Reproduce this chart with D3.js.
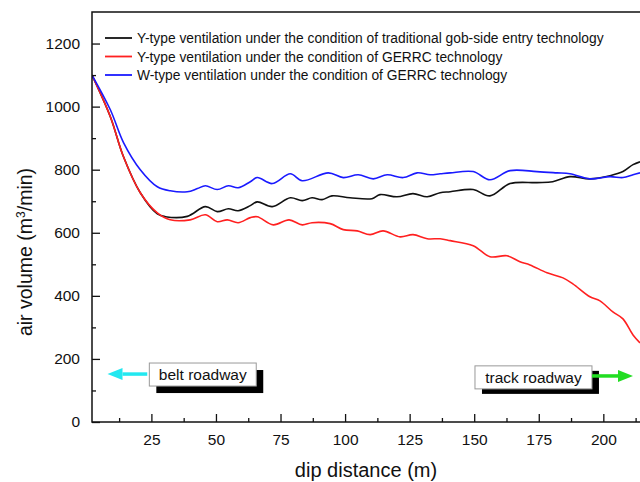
<!DOCTYPE html>
<html>
<head>
<meta charset="utf-8">
<script src="https://cdn.jsdelivr.net/npm/d3@7"></script>
<style>
  body { margin: 0; background: #fff; }
  text { font-family: Arial, "Liberation Sans", sans-serif; fill: #111; }
</style>
</head>
<body>
<div id="chart"></div>
<script>
// dip distance (m) sampled along the roadway
const blueX  = [2, 9.1, 14.2, 20.7, 27.3, 32.3, 38.9, 42.8, 45.9, 50.5, 54.8, 58.6, 63.3, 66.0, 71.8, 78.8, 83.4, 93.5, 99.3, 105.1, 110.9, 116.3, 122.5, 127.9, 132.9, 136.8, 140.7, 149.6, 156.1, 163.9, 174.3, 182.0, 187.1, 194.8, 202.6, 207.6, 211.5, 214.2];
const blueY  = [1100, 990, 886, 800, 746, 733, 730, 740, 749, 737, 749, 743, 762, 775, 756, 787, 765, 790, 775, 784, 771, 784, 775, 790, 784, 787, 790, 794, 768, 797, 794, 790, 787, 771, 778, 775, 784, 790];

const blackX = [2, 9.1, 14.2, 20.7, 27.3, 30.4, 38.9, 45.9, 50.5, 54.8, 58.6, 63.3, 66.0, 71.8, 78.8, 83.4, 87.2, 91.1, 94.9, 101.9, 110.4, 113.5, 120.1, 126.3, 131.8, 136.8, 140.7, 149.6, 156.1, 163.9, 174.3, 180.4, 187.1, 194.8, 202.6, 207.6, 211.5, 214.2];
const blackY = [1100, 968, 841, 727, 660, 651, 652, 683, 667, 676, 670, 686, 698, 683, 711, 702, 711, 705, 717, 711, 708, 721, 714, 724, 714, 727, 730, 737, 717, 756, 759, 762, 778, 771, 781, 794, 816, 825];

const redX   = [2, 9.1, 14.2, 20.7, 27.3, 32.3, 40.0, 45.9, 50.5, 54.4, 58.6, 63.3, 66.0, 72.2, 78.3, 83.4, 87.2, 94.2, 99.3, 104.7, 109.7, 114.7, 121.3, 126.3, 131.8, 136.8, 140.7, 149.6, 156.1, 162.7, 167.7, 171.6, 178.2, 184.4, 188.2, 194.8, 198.7, 203.7, 207.6, 211.5, 214.2];
const redY   = [1100, 968, 841, 727, 663, 641, 641, 657, 635, 641, 632, 648, 651, 625, 641, 625, 632, 629, 610, 606, 594, 606, 587, 594, 581, 581, 575, 559, 524, 527, 508, 498, 473, 457, 438, 397, 384, 349, 327, 276, 251];

const seriesNames = [
  "Y-type ventilation under the condition of traditional gob-side entry technology",
  "Y-type ventilation under the condition of GERRC technology",
  "W-type ventilation under the condition of GERRC technology"
];
const seriesColors = ["#111111", "#ff2020", "#1a1aff"];

const xTicks = [25, 50, 75, 100, 125, 150, 175, 200];
const yTicks = [0, 200, 400, 600, 800, 1000, 1200];

const W = 640, H = 482;
const margin = {left: 92, top: 12, right: 0, bottom: 60};

const svg = d3.select('#chart').append('svg')
  .attr('width', W)
  .attr('height', H);

const x = d3.scaleLinear().domain([2, 214.2]).range([margin.left, W - margin.right]);
const y = d3.scaleLinear().domain([0, 1300]).range([H - margin.bottom, margin.top]);

const series = [
  {name: seriesNames[0], color: seriesColors[0], pts: d3.zip(blackX, blackY)},
  {name: seriesNames[1], color: seriesColors[1], pts: d3.zip(redX, redY)},
  {name: seriesNames[2], color: seriesColors[2], pts: d3.zip(blueX, blueY)}
];

svg.append('clipPath').attr('id', 'clip')
  .append('rect')
  .attr('x', margin.left).attr('y', margin.top)
  .attr('width', W - margin.left).attr('height', H - margin.bottom - margin.top);

const line = d3.line()
  .x(d => x(d[0]))
  .y(d => y(d[1]))
  .curve(d3.curveCatmullRom.alpha(0.5));

svg.append('g').attr('clip-path', 'url(#clip)')
  .selectAll('path')
  .data(series)
  .enter()
  .append('path')
  .attr('d', d => line(d.pts))
  .style('fill', 'none')
  .style('stroke', d => d.color)
  .style('stroke-width', 1.6);

// frame
svg.append('rect')
  .attr('x', margin.left).attr('y', margin.top)
  .attr('width', W - margin.left + 2).attr('height', H - margin.bottom - margin.top)
  .style('fill', 'none').style('stroke', '#111').style('stroke-width', 1.5);

// axes with inward ticks
const xAxis = d3.axisBottom(x).tickValues(xTicks).tickSize(-8).tickPadding(12).tickFormat(d3.format('d'));
const xMinor = d3.axisBottom(x).tickValues(d3.range(12.5, 214, 25)).tickSize(-4).tickFormat('');
const yAxis = d3.axisLeft(y).tickValues(yTicks).tickSize(-8).tickPadding(12).tickFormat(d3.format('d'));
const yMinor = d3.axisLeft(y).tickValues(d3.range(100, 1300, 200)).tickSize(-4).tickFormat('');

function styleAxis(g){
  g.select('.domain').remove();
  g.selectAll('line').style('stroke', '#111').style('stroke-width', 1.3);
  g.selectAll('text').style('font-size', '15.5px').style('fill', '#111');
}

svg.append('g').attr('transform', `translate(0,${H - margin.bottom})`).call(xAxis).call(styleAxis);
svg.append('g').attr('transform', `translate(0,${H - margin.bottom})`).call(xMinor).call(styleAxis);
svg.append('g').attr('transform', `translate(${margin.left},0)`).call(yAxis).call(styleAxis);
svg.append('g').attr('transform', `translate(${margin.left},0)`).call(yMinor).call(styleAxis);

// axis titles
svg.append('text')
  .attr('x', (margin.left + W) / 2).attr('y', 477)
  .attr('text-anchor', 'middle')
  .style('font-size', '20px')
  .text('dip distance (m)');

const yTitle = svg.append('text')
  .attr('transform', `translate(32,${252}) rotate(-90)`)
  .attr('text-anchor', 'middle')
  .style('font-size', '19.5px');
yTitle.append('tspan').text('air volume (m');
yTitle.append('tspan').attr('dy', -7).style('font-size', '12px').text('3');
yTitle.append('tspan').attr('dy', 7).text('/min)');

// legend
const legend = svg.append('g');
series.forEach(function(s, i){
  const ly = 38 + i * 18.5;
  legend.append('line')
    .attr('x1', 105).attr('x2', 132).attr('y1', ly).attr('y2', ly)
    .style('stroke', s.color).style('stroke-width', 1.8);
  legend.append('text')
    .attr('x', 137).attr('y', ly + 5)
    .style('font-size', '13.8px')
    .text(s.name);
});

// roadway annotations
const notes = [
  {label: 'belt roadway', x0: 24.2, x1: 65.6, yTop: 187, yBot: 114, dx: 7, dy: 7},
  {label: 'track roadway', x0: 150.3, x1: 195.6, yTop: 178, yBot: 105, dx: 7, dy: 5}
];
notes.forEach(function(n){
  const bx = x(n.x0), bw = x(n.x1) - x(n.x0);
  const by = y(n.yTop), bh = y(n.yBot) - y(n.yTop);
  svg.append('rect')
    .attr('x', bx + n.dx).attr('y', by + n.dy).attr('width', bw).attr('height', bh)
    .style('fill', '#000');
  svg.append('rect')
    .attr('x', bx).attr('y', by).attr('width', bw).attr('height', bh)
    .style('fill', '#fff').style('stroke', '#999').style('stroke-width', 1);
  svg.append('text')
    .attr('x', bx + bw / 2).attr('y', by + bh / 2 + 5.5)
    .attr('text-anchor', 'middle')
    .style('font-size', '15.5px')
    .text(n.label);
});

const arrows = [
  {from: 23.4, to: 8.0, val: 152, color: '#22e8f0'},
  {from: 195.6, to: 211.5, val: 146, color: '#22dd22'}
];
arrows.forEach(function(a){
  const x0 = x(a.from), x1 = x(a.to), yy = y(a.val);
  const dir = Math.sign(x1 - x0);
  const headLen = 15, headHalf = 6;
  svg.append('line')
    .attr('x1', x0).attr('x2', x1 - dir * headLen)
    .attr('y1', yy).attr('y2', yy)
    .style('stroke', a.color).style('stroke-width', 3.5);
  svg.append('path')
    .attr('d', `M${x1},${yy} L${x1 - dir * headLen},${yy - headHalf} L${x1 - dir * headLen},${yy + headHalf} Z`)
    .style('fill', a.color);
});
</script>
</body>
</html>
